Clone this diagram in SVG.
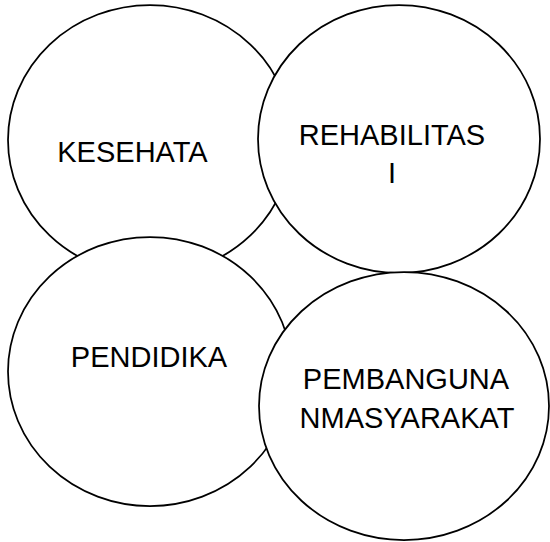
<svg xmlns="http://www.w3.org/2000/svg" width="550" height="542" viewBox="0 0 550 542">
<style>
.n{fill:#fff;stroke:#000;stroke-width:1.75}
.t{font-family:"Liberation Sans",Arial,sans-serif;font-size:29px;fill:#000;text-anchor:middle}
</style>
<rect width="550" height="542" fill="#fff"/>
<g id="kesehatan">
<ellipse class="n" cx="150" cy="140" rx="142" ry="135"/>
<text class="t" x="132.5" y="162">KESEHATA</text>
</g>
<g id="rehabilitasi">
<ellipse class="n" cx="399" cy="139" rx="141" ry="134"/>
<text class="t" x="392" y="145">REHABILITAS</text>
<text class="t" x="392" y="183">I</text>
</g>
<g id="pendidikan">
<ellipse class="n" cx="150" cy="371.5" rx="142" ry="134.5"/>
<text class="t" x="149" y="367">PENDIDIKA</text>
</g>
<g id="pembangunan">
<ellipse class="n" cx="404" cy="406" rx="145" ry="134"/>
<text class="t" x="406" y="389">PEMBANGUNA</text>
<text class="t" x="407" y="428">NMASYARAKAT</text>
</g>
<g id="connectors"></g>
</svg>
